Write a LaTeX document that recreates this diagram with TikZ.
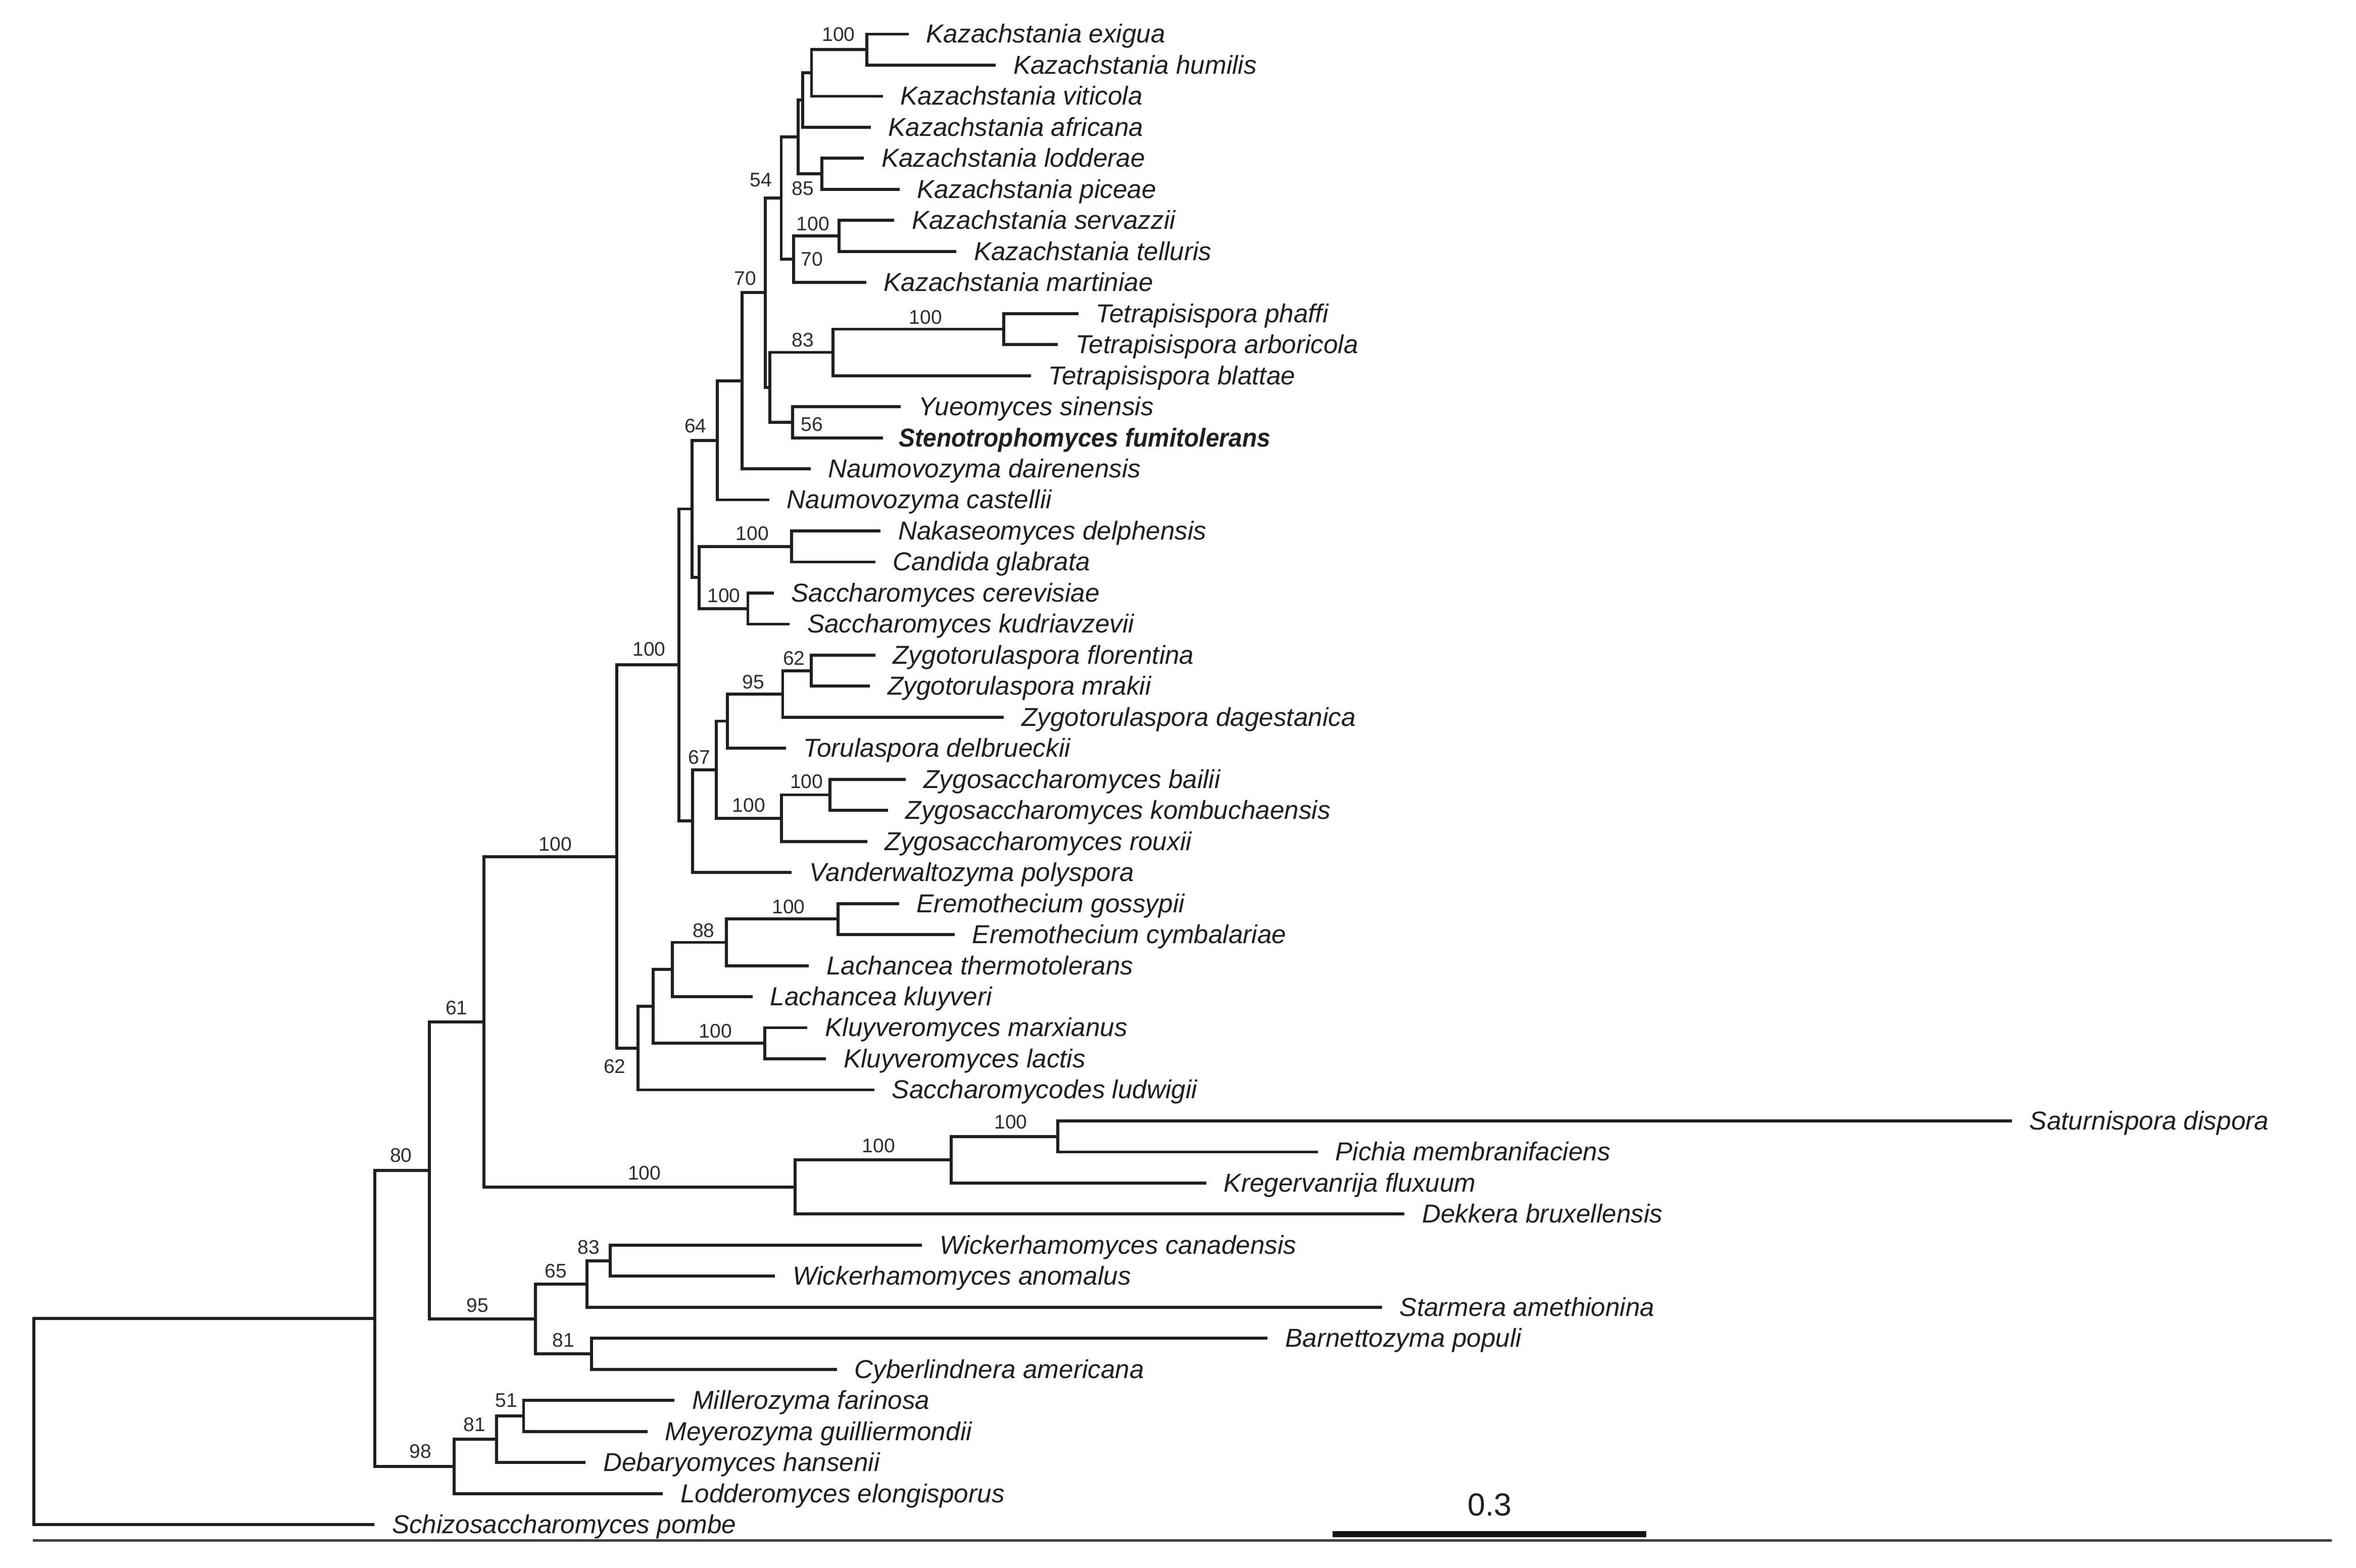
\documentclass[tikz,border=0pt]{standalone}
\usepackage{fontspec}
\setmainfont{Liberation Sans}
\newfontfamily\narrowbold[FakeStretch=0.935]{Liberation Sans}
\newcommand\yy[1]{22.5+(#1-1)*20.49}
\tikzset{
  br/.style={line width=1.95pt, draw=black!88, line join=miter, line cap=butt},
  leaf/.style={anchor=base west, inner sep=0pt, text=black!88, font=\fontsize{17.1}{17.1}\selectfont\itshape},
  bs/.style={inner sep=0pt, text=black!82, font=\fontsize{13}{13}\selectfont},
}
\begin{document}
\begin{tikzpicture}[x=1pt,y=-1pt]
\fill[white] (0,0) rectangle (1554.67,1034.67);
\useasboundingbox (0,0) rectangle (1554.67,1034.67);
% leaf tips
\foreach \i/\x in {1/599.5,2/657,3/582.5,4/574.5,5/570,6/593.5,7/590,8/631,9/571.5,10/711.5,
  11/698,12/680.2,13/594.4,14/582.5,15/534.9,16/507.5,17/581.1,18/577.5,19/510.5,20/521,
  21/577.5,22/574,23/662.4,24/518.5,25/597.8,26/585.9,27/572.2,28/522.4,29/593.2,30/629.9,
  31/533.7,32/496.5,33/532.8,34/545,35/576.9,36/1327.6,37/869.5,38/795.9,39/926.7,40/608.3,
  41/511.4,42/911.9,43/836.4,44/552.2,45/445,46/427.2,47/386.4,48/437.4,49/247}
  {\coordinate (L\i) at ({\x},{\yy{\i}});}
% internal nodes
\coordinate (a1) at (572.0,{\yy{1.5}});
\coordinate (a2) at (535.5,{\yy{2.25}});
\coordinate (a3) at (529.8,{\yy{3.125}});
\coordinate (a4) at (542.3,{\yy{5.5}});
\coordinate (a5) at (526.8,{\yy{4.3125}});
\coordinate (a6) at (553.6,{\yy{7.5}});
\coordinate (a7) at (523.6,{\yy{8.25}});
\coordinate (a8) at (515.5,{\yy{6.28125}});
\coordinate (t1) at (662.3,{\yy{10.5}});
\coordinate (t2) at (549.8,{\yy{11.25}});
\coordinate (ys) at (523.0,{\yy{13.5}});
\coordinate (t3) at (508.0,{\yy{12.375}});
\coordinate (a9) at (505.1,{\yy{9.328125}});
\coordinate (a10) at (489.6,{\yy{12.1640625}});
\coordinate (a11) at (473.2,{\yy{14.08203125}});
\coordinate (n1) at (522.4,{\yy{17.5}});
\coordinate (n2) at (493.5,{\yy{19.5}});
\coordinate (ns) at (461.4,{\yy{18.5}});
\coordinate (a12) at (456.8,{\yy{16.291015625}});
\coordinate (z1) at (535.2,{\yy{21.5}});
\coordinate (z2) at (516.5,{\yy{22.25}});
\coordinate (z3) at (480.1,{\yy{23.125}});
\coordinate (z4) at (547.7,{\yy{25.5}});
\coordinate (z5) at (515.6,{\yy{26.25}});
\coordinate (z6) at (472.7,{\yy{24.6875}});
\coordinate (z7) at (456.9,{\yy{26.34375}});
\coordinate (a13) at (448.1,{\yy{21.3173828125}});
\coordinate (e1) at (553.1,{\yy{29.5}});
\coordinate (e2) at (479.2,{\yy{30.25}});
\coordinate (e3) at (443.8,{\yy{31.125}});
\coordinate (k1) at (504.8,{\yy{33.5}});
\coordinate (e4) at (431.0,{\yy{32.3125}});
\coordinate (e5) at (421.1,{\yy{33.65625}});
\coordinate (b0) at (407.1,{\yy{27.48681640625}});
\coordinate (p1) at (697.9,{\yy{36.5}});
\coordinate (p2) at (627.8,{\yy{37.25}});
\coordinate (p3) at (524.8,{\yy{38.125}});
\coordinate (b1) at (319.3,{\yy{32.805908203125}});
\coordinate (w1) at (402.7,{\yy{40.5}});
\coordinate (w2) at (387.4,{\yy{41.25}});
\coordinate (w3) at (390.4,{\yy{43.5}});
\coordinate (w4) at (353.3,{\yy{42.375}});
\coordinate (b2) at (283.3,{\yy{37.5904541015625}});
\coordinate (d1) at (345.5,{\yy{45.5}});
\coordinate (d2) at (327.7,{\yy{46.25}});
\coordinate (d3) at (299.6,{\yy{47.125}});
\coordinate (b3) at (247.2,{\yy{42.35772705078125}});
\coordinate (root) at (22.2,{\yy{45.678863525390625}});
% brackets: child -| parent |- child
\foreach \c/\p/\d in {L1/a1/L2, a1/a2/L3, a2/a3/L4, L5/a4/L6, a3/a5/a4, L7/a6/L8, a6/a7/L9,
  a5/a8/a7, L10/t1/L11, t1/t2/L12, L13/ys/L14, t2/t3/ys, a8/a9/t3, a9/a10/L15, a10/a11/L16,
  L17/n1/L18, L19/n2/L20, n1/ns/n2, a11/a12/ns, L21/z1/L22, z1/z2/L23, z2/z3/L24,
  L25/z4/L26, z4/z5/L27, z3/z6/z5, z6/z7/L28, a12/a13/z7, L29/e1/L30, e1/e2/L31, e2/e3/L32,
  L33/k1/L34, e3/e4/k1, e4/e5/L35, a13/b0/e5, L36/p1/L37, p1/p2/L38, p2/p3/L39, b0/b1/p3,
  L40/w1/L41, w1/w2/L42, L43/w3/L44, w2/w4/w3, b1/b2/w4, L45/d1/L46, d1/d2/L47, d2/d3/L48,
  b2/b3/d3, b3/root/L49}
  {\draw[br] (\c) -| (\p) |- (\d);}
% leaf labels
\foreach \i/\t in {1/Kazachstania exigua,2/Kazachstania humilis,3/Kazachstania viticola,
  4/Kazachstania africana,5/Kazachstania lodderae,6/Kazachstania piceae,7/Kazachstania servazzii,
  8/Kazachstania telluris,9/Kazachstania martiniae,10/Tetrapisispora phaffi,
  11/Tetrapisispora arboricola,12/Tetrapisispora blattae,13/Yueomyces sinensis,
  15/Naumovozyma dairenensis,16/Naumovozyma castellii,17/Nakaseomyces delphensis,
  18/Candida glabrata,19/Saccharomyces cerevisiae,20/Saccharomyces kudriavzevii,
  21/Zygotorulaspora florentina,22/Zygotorulaspora mrakii,23/Zygotorulaspora dagestanica,
  24/Torulaspora delbrueckii,25/Zygosaccharomyces bailii,26/Zygosaccharomyces kombuchaensis,
  27/Zygosaccharomyces rouxii,28/Vanderwaltozyma polyspora,29/Eremothecium gossypii,
  30/Eremothecium cymbalariae,31/Lachancea thermotolerans,32/Lachancea kluyveri,
  33/Kluyveromyces marxianus,34/Kluyveromyces lactis,35/Saccharomycodes ludwigii,
  36/Saturnispora dispora,37/Pichia membranifaciens,38/Kregervanrija fluxuum,
  39/Dekkera bruxellensis,40/Wickerhamomyces canadensis,41/Wickerhamomyces anomalus,
  42/Starmera amethionina,43/Barnettozyma populi,44/Cyberlindnera americana,
  45/Millerozyma farinosa,46/Meyerozyma guilliermondii,47/Debaryomyces hansenii,
  48/Lodderomyces elongisporus,49/Schizosaccharomyces pombe}
  {\node[leaf] (T\i) at ([xshift=11.5pt,yshift=-5.8pt]L\i) {\t};}
\node[leaf, font=\fontsize{17.1}{17.1}\narrowbold\bfseries\itshape] (T14) at ([xshift=10.5pt,yshift=-5.8pt]L14) {Stenotrophomyces fumitolerans};
% bootstrap values
\node[bs] (Ba1) at (553.3,22.8) {100};
\node[bs] (Ba8) at (502.1,118.9) {54};
\node[bs] (Ba4) at (529.8,124.4) {85};
\node[bs] (Ba6) at (536.4,147.6) {100};
\node[bs] (Ba7) at (535.8,170.9) {70};
\node[bs] (Ba9) at (491.7,183.6) {70};
\node[bs] (Bt1) at (610.8,209.3) {100};
\node[bs] (Bt2) at (529.8,224.4) {83};
\node[bs] (Bys) at (535.8,280.0) {56};
\node[bs] (Ba11) at (458.9,281.0) {64};
\node[bs] (Bn1) at (496.5,352.1) {100};
\node[bs] (Bn2) at (477.7,392.9) {100};
\node[bs] (Ba13) at (428.3,428.3) {100};
\node[bs] (Bz1) at (523.9,434.3) {62};
\node[bs] (Bz2) at (497.1,449.9) {95};
\node[bs] (Bz6) at (461.4,499.6) {67};
\node[bs] (Bz4) at (532.2,515.7) {100};
\node[bs] (Bz5) at (494.1,531.3) {100};
\node[bs] (Be1) at (520.3,598.5) {100};
\node[bs] (Be2) at (464.3,614.0) {88};
\node[bs] (Bk1) at (472.1,680.3) {100};
\node[bs] (Be5) at (405.6,703.7) {62};
\node[bs] (Bb0) at (366.5,557.0) {100};
\node[bs] (Bb1) at (301.3,665.0) {61};
\node[bs] (Bb2) at (264.6,762.5) {80};
\node[bs] (Bp3) at (425.2,774.0) {100};
\node[bs] (Bp2) at (579.8,756.0) {100};
\node[bs] (Bp1) at (667.0,740.5) {100};
\node[bs] (Bw4) at (315.2,861.5) {95};
\node[bs] (Bw1) at (388.5,823.0) {83};
\node[bs] (Bw2) at (366.7,838.6) {65};
\node[bs] (Bw3) at (371.7,884.4) {81};
\node[bs] (Bd1) at (334.0,924.0) {51};
\node[bs] (Bd2) at (313.2,940.0) {81};
\node[bs] (Bd3) at (277.5,957.7) {98};
% bottom rule and scale bar
\coordinate (ax1) at (21.6,1016.5);
\coordinate (ax2) at (1538.5,1016.5);
\draw[line width=1.4pt, draw=black!75] (ax1) -- (ax2);
\coordinate (sb1) at (879.3,1012.2);
\coordinate (sb2) at (1086.3,1012.2);
\draw[line width=4pt, draw=black!92] (sb1) -- (sb2);
\node[inner sep=0pt, text=black!88, font=\fontsize{21}{21}\selectfont] (sbl) at (983,993) {0.3};
\end{tikzpicture}
\end{document}
